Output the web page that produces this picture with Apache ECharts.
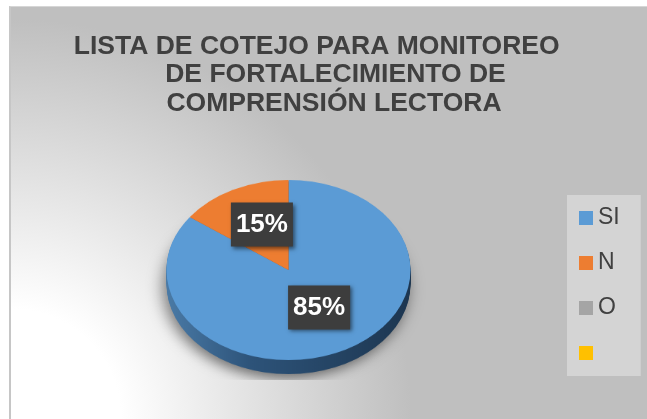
<!DOCTYPE html>
<html>
<head>
<meta charset="utf-8">
<script src="https://cdn.jsdelivr.net/npm/echarts@6/dist/echarts.min.js"></script>
<style>
body{margin:0;width:647px;height:419px;overflow:hidden;background:#fff;}
#frame{position:absolute;left:9px;top:6px;width:638px;height:413px;box-sizing:border-box;
  border-left:2px solid #c6c6c6;border-top:1px solid #d6d6d6;
  background:radial-gradient(circle at 0 100%, #ffffff 0px, #ffffff 110px, #bfbfbf 400px);}
/* the pie is drawn round, then flattened so it looks like the excel 3d pie */
#pieChart{position:absolute;left:0;top:0;width:647px;height:419px;transform:scaleY(0.738);transform-origin:0 270px;}
#myChart{position:absolute;left:0;top:0;width:647px;height:419px;}
</style>
</head>
<body>
<div id="frame"></div>
<div id="pieChart"></div>
<div id="myChart"></div>
<script>
// data
var categories = ['SI', 'N', 'O', ' '];
var values = [85, 15, 0, 0];
var titleLines = ['LISTA DE COTEJO PARA MONITOREO', 'DE FORTALECIMIENTO DE', 'COMPRENSIÓN LECTORA'];

var faceColors = ['#5b9bd5', '#ed7d31', '#a5a5a5', '#ffc000'];
var sideColors = [
  {type:'linear', x:0, y:0, x2:1, y2:0, colorStops:[
    {offset:0, color:'#4a7aa6'}, {offset:0.35, color:'#2d5379'}, {offset:1, color:'#1d3650'}]},
  '#a9551c', '#7a7a7a', '#b88a00'
];

var font = "'Liberation Sans', Arial, sans-serif";
var squash = 0.738;          // same as the css scaleY
var depth = 14;              // thickness of the pie, px on screen
var pieCenter = [288.5, 270];
var labelCenter = [290.5, 266];
var titleCenters = [316.7, 335.5, 334];
var titleTops = [33, 61.5, 90.5];

// ---------- flattened 3d pie ----------
var pieSeries = [];
for (var k = depth; k >= 0; k--) {
  var style = {borderWidth: 0};
  if (k === depth) {
    style.shadowBlur = 16;
    style.shadowColor = 'rgba(0,0,0,0.5)';
    style.shadowOffsetX = -3;
    style.shadowOffsetY = 6;
  }
  pieSeries.push({
    type: 'pie',
    silent: true,
    animation: false,
    radius: 122,
    center: [pieCenter[0], pieCenter[1] + k / squash],
    startAngle: 90,
    clockwise: true,
    label: {show: false},
    labelLine: {show: false},
    itemStyle: style,
    data: categories.map(function (name, i) {
      return {name: name, value: values[i], itemStyle: {color: k === 0 ? faceColors[i] : sideColors[i]}};
    })
  });
}
var pieChart = echarts.init(document.getElementById('pieChart'));
pieChart.setOption({backgroundColor: 'transparent', series: pieSeries});

// ---------- title, legend, labels ----------
var option = {
  backgroundColor: 'transparent',
  title: titleLines.map(function (t, i) {
    return {
      text: t,
      left: titleCenters[i],
      top: titleTops[i],
      textAlign: 'center',
      padding: 0,
      textStyle: {fontFamily: font, fontSize: 26.5, fontWeight: 'bold', color: '#404040'}
    };
  }),
  legend: {
    orient: 'vertical',
    left: 567,
    top: 195,
    padding: [10, 21, 10, 12],
    backgroundColor: '#d4d4d4',
    icon: 'rect',
    itemWidth: 14,
    itemHeight: 14,
    itemGap: 19,
    selectedMode: false,
    textStyle: {fontFamily: font, fontSize: 23, lineHeight: 22, color: '#404040', padding: [0, 0, 4, 0]},
    data: categories.map(function (name, i) {
      return {name: name, itemStyle: {color: faceColors[i]}};
    })
  },
  series: [
    {
      type: 'pie',
      silent: true,
      animation: false,
      radius: 120,
      center: labelCenter,
      startAngle: 90,
      clockwise: true,
      itemStyle: {color: 'rgba(0,0,0,0)', borderWidth: 0},
      label: {
        show: true,
        position: 'inside',
        formatter: function (p) { return p.percent + '%'; },
        fontFamily: font,
        fontSize: 26,
        fontWeight: 'bold',
        lineHeight: 26,
        color: '#ffffff',
        backgroundColor: '#3d3d3d',
        padding: [18, 5, 0, 5],
        shadowColor: 'rgba(0,0,0,0.5)',
        shadowBlur: 4,
        shadowOffsetX: 2,
        shadowOffsetY: 2
      },
      labelLine: {show: false},
      // put the labels on the flattened pie
      labelLayout: function (p) {
        var r = p.labelRect;
        var my = r.y + r.height / 2;
        return {y: labelCenter[1] + (my - labelCenter[1]) * squash};
      },
      data: categories.map(function (name, i) {
        return {name: name, value: values[i], label: {show: values[i] > 0}};
      })
    }
  ]
};

var myChart = echarts.init(document.getElementById('myChart'));
myChart.setOption(option);
</script>
</body>
</html>
